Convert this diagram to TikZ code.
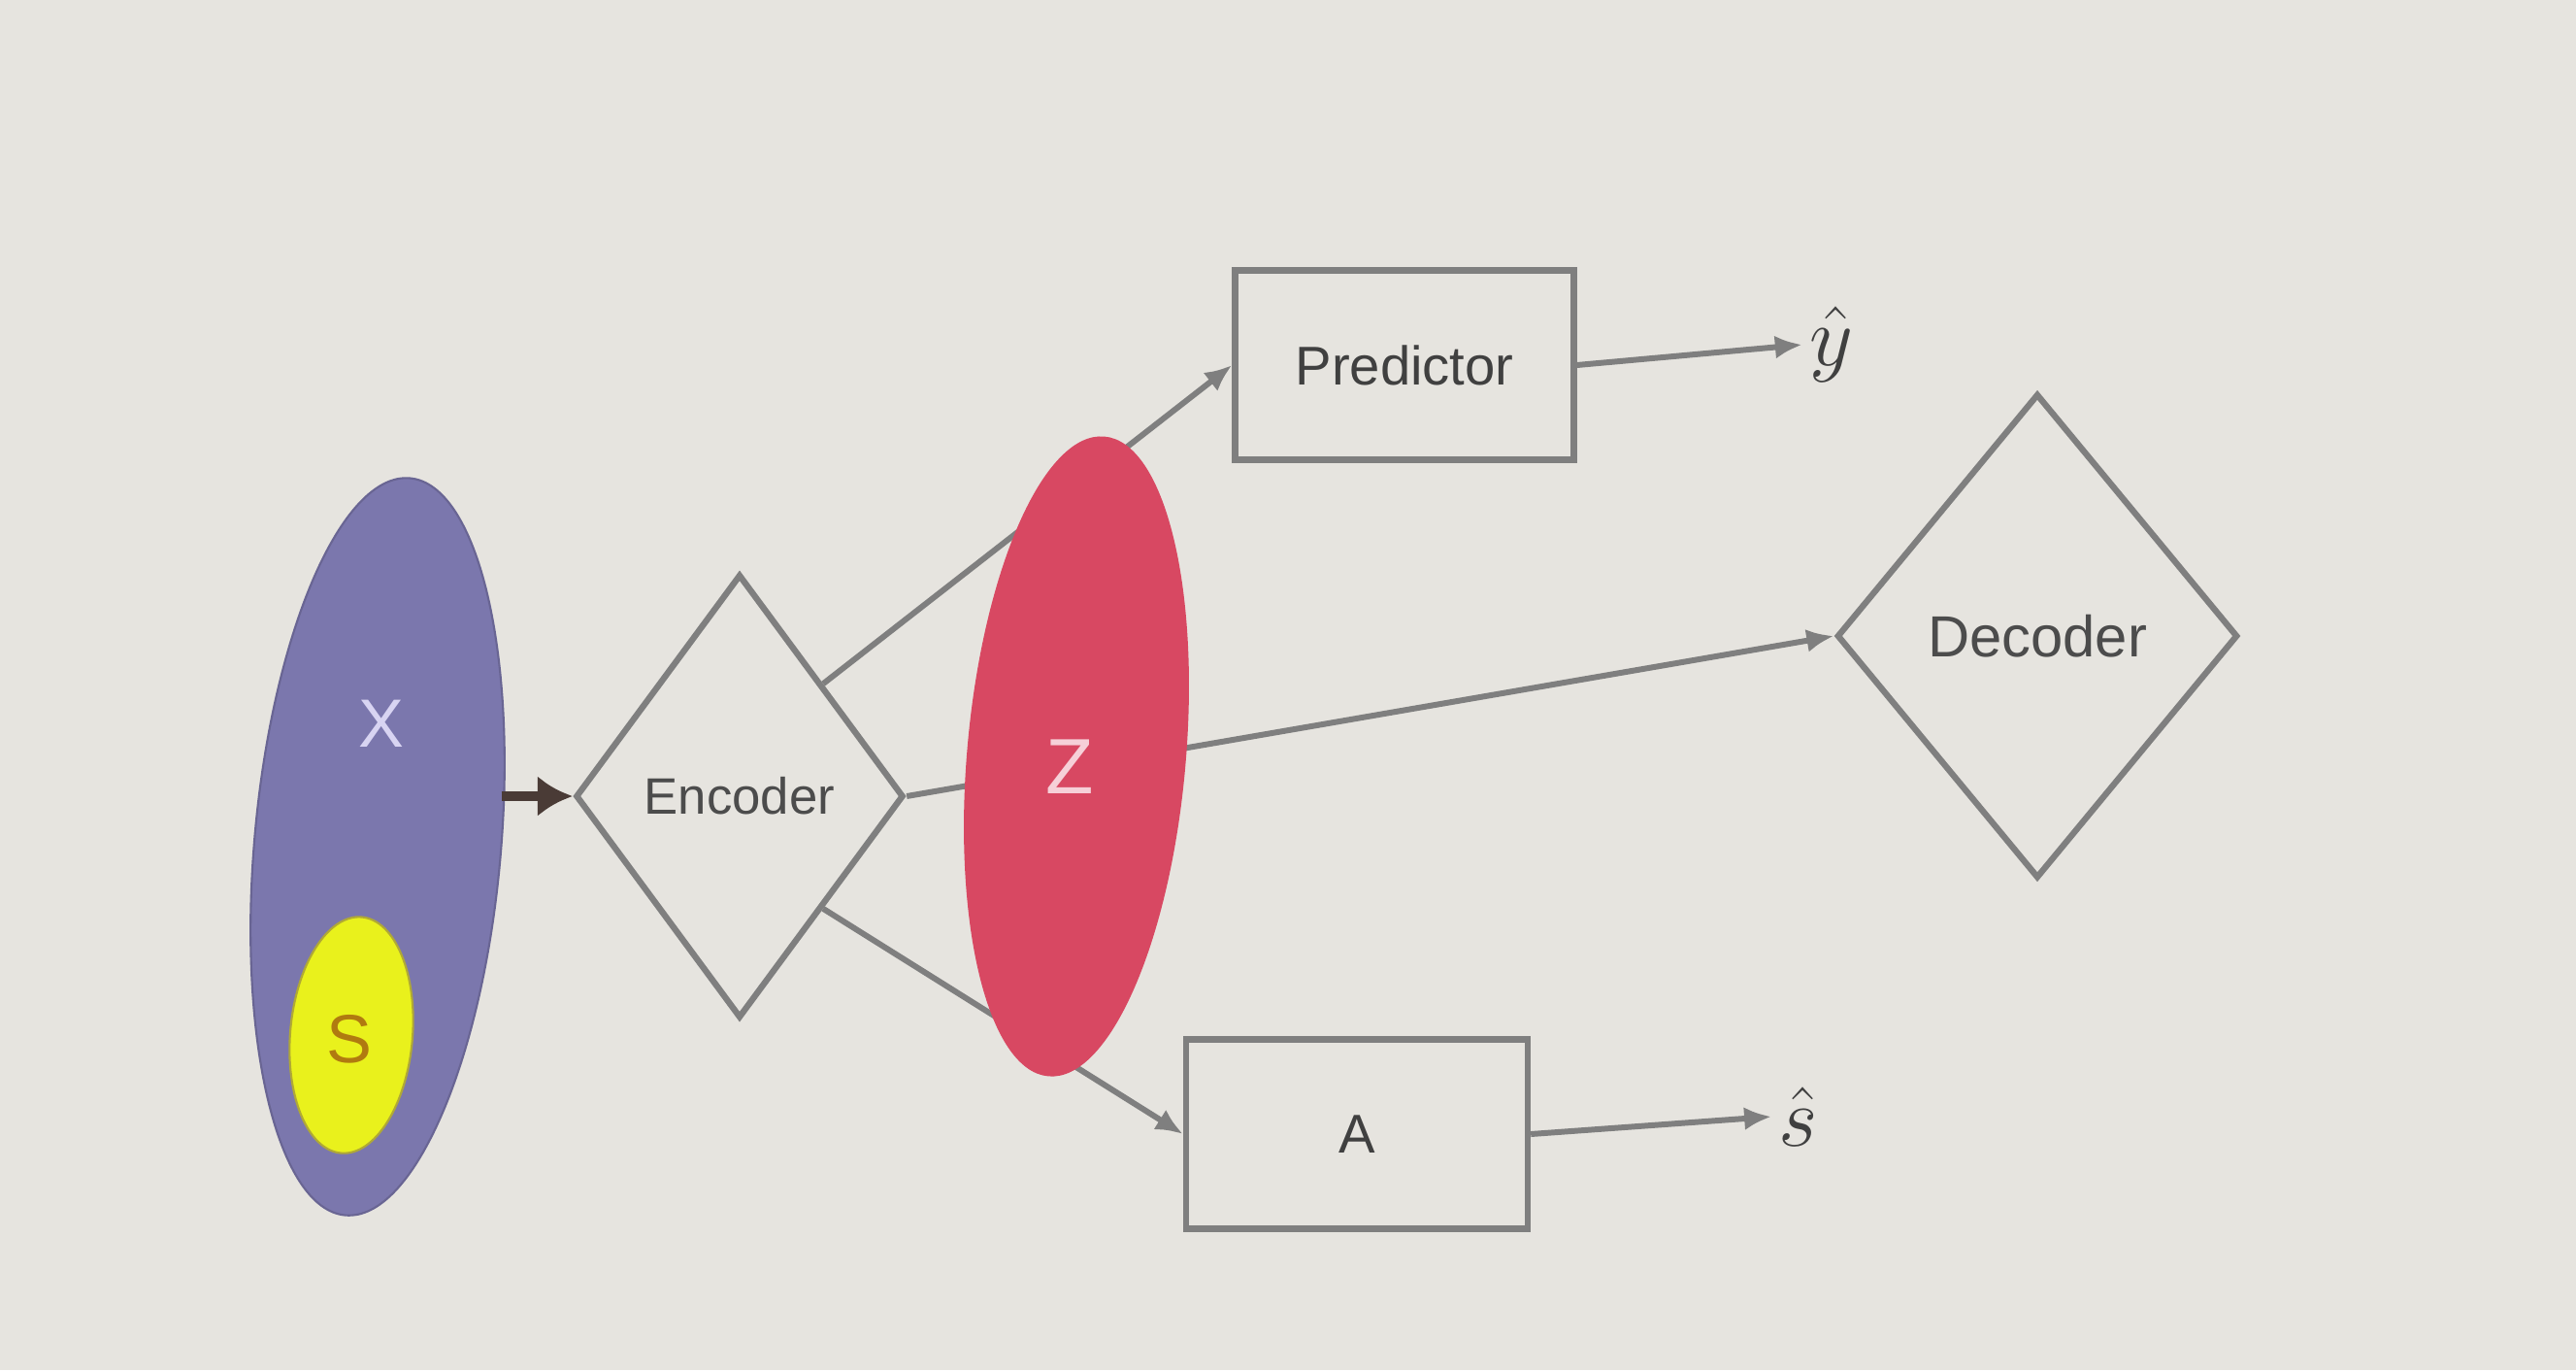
\documentclass[tikz,border=0pt]{standalone}
\usepackage{fontspec}
\setmainfont{Liberation Sans}
\usetikzlibrary{shapes.geometric,arrows.meta}
\definecolor{bgc}{HTML}{E6E4DF}
\definecolor{linec}{HTML}{7F7F7F}
\definecolor{xfill}{HTML}{7B77AD}
\definecolor{xtext}{HTML}{D8D4F2}
\definecolor{sfill}{HTML}{E9F11C}
\definecolor{stext}{HTML}{B07A10}
\definecolor{zfill}{HTML}{D84862}
\definecolor{ztext}{HTML}{F6D0D8}
\definecolor{arrowc}{HTML}{4A3B36}
\tikzset{
  gline/.style={draw=linec, line width=1.7pt},
  garrow/.style={gline, -{Latex[length=0.28cm,width=0.24cm]}},
  boxnode/.style={draw=linec, line width=1.8pt, rectangle, minimum width=3.49cm, minimum height=1.95cm, text=black!75, font=\fontsize{16}{18}\selectfont},
  dianode/.style={draw=linec, line width=1.8pt, diamond, aspect=0.75, inner sep=0pt, text=black!70},
  hatlabel/.style={font=\fontsize{32}{34}\selectfont, text=black!75, inner sep=2pt}
}
\begin{document}
\begin{tikzpicture}
\fill[bgc] (0,0) rectangle (26.54,-14.11);
\useasboundingbox (0,0) rectangle (26.54,-14.11);

% X and S
\node[ellipse, fill=xfill, draw=xfill!85!black, line width=0.6pt, minimum width=2.54cm, minimum height=7.62cm, rotate=-5] (X) at (3.89,-8.72) {};
\node[text=xtext, font=\fontsize{20}{22}\selectfont] (Xl) at (3.93,-7.45) {X};
\node[ellipse, fill=sfill, draw=olive!70, line width=0.6pt, minimum width=1.26cm, minimum height=2.44cm, rotate=-5] (S) at (3.62,-10.66) {};
\node[text=stext, font=\fontsize{20}{22}\selectfont] (Sl) at (3.60,-10.70) {S};

% Encoder
\node[dianode, minimum width=3.38cm, minimum height=4.57cm, font=\fontsize{15}{17}\selectfont] (enc) at (7.62,-8.20) {Encoder};

% Predictor, decoder, A
\node[boxnode] (pred) at (14.47,-3.76) {Predictor};
\node[hatlabel] (yhat) at (18.87,-3.55) {$\hat{y}$};
\node[dianode, minimum width=4.13cm, minimum height=4.99cm, font=\fontsize{17}{19}\selectfont] (dec) at (20.99,-6.55) {Decoder};
\node[boxnode, minimum width=3.52cm] (A) at (13.98,-11.68) {A};
\node[hatlabel] (shat) at (18.53,-11.50) {$\hat{s}$};

% connectors behind Z
\draw[garrow] (enc.north east) -- (pred.west);
\draw[garrow] (enc.east) -- (dec.west);
\draw[garrow] (enc.south east) -- (A.west);
\draw[garrow] (pred.east) -- (yhat.west);
\draw[garrow] (A.east) -- (shat.west);
\draw[draw=arrowc, line width=2.8pt, -{Latex[length=0.36cm,width=0.42cm]}] (X.east |- enc.west) -- (enc.west);

% Z on top
\node[ellipse, fill=zfill, draw=zfill, minimum width=2.24cm, minimum height=6.60cm, rotate=-5] (Z) at (11.09,-7.79) {};
\node[text=ztext, font=\fontsize{23}{25}\selectfont] (Zl) at (11.02,-7.90) {Z};
\end{tikzpicture}
\end{document}
